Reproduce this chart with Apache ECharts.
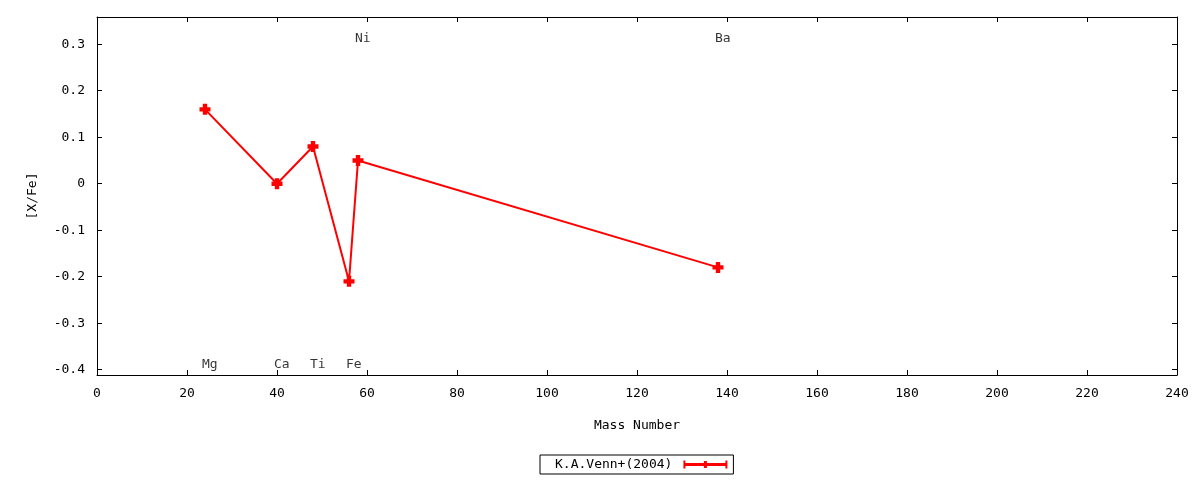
<!DOCTYPE html>
<html>
<head>
<meta charset="utf-8">
<script src="https://cdn.jsdelivr.net/npm/echarts@6/dist/echarts.min.js"></script>
<style>
  html, body { margin: 0; padding: 0; background: #fff; }
  #chart { width: 1200px; height: 480px; }
</style>
</head>
<body>
<div id="chart"></div>
<script>
// data
var elements = ['Mg', 'Ca', 'Ti', 'Fe', 'Ni', 'Ba'];
var massNumber = [24, 40, 48, 56, 58, 138];
var xFe = [0.16, 0.00, 0.08, -0.21, 0.05, -0.18];
var labelY = [-0.39, -0.39, -0.39, -0.39, 0.312, 0.312];
var yTicks = [-0.4, -0.3, -0.2, -0.1, 0, 0.1, 0.2, 0.3];
var seriesName = 'K.A.Venn+(2004)';

var font = 'DejaVu Sans Mono';
var plusSymbol = 'path://M3,0h4v3h3v4h-3v3h-4v-3h-3v-4h3z';

var chart = echarts.init(document.getElementById('chart'));

var points = massNumber.map(function (m, i) { return [m, xFe[i]]; });
var tags = massNumber.map(function (m, i) { return { value: [m, labelY[i]], name: elements[i] }; });

var lineStyleBlack = { color: '#000', width: 1 };

chart.setOption({
    animation: false,
    backgroundColor: '#fff',
    textStyle: { fontFamily: font },
    grid: { left: 97, right: 23, top: 17, bottom: 105 },
    xAxis: [
        {
            type: 'value', min: 0, max: 240, interval: 20,
            name: 'Mass Number', nameLocation: 'middle', nameGap: 44,
            nameTextStyle: { color: '#000', fontSize: 13, fontFamily: font },
            axisLine: { onZero: false, lineStyle: lineStyleBlack },
            axisTick: { inside: true, length: 5, lineStyle: lineStyleBlack },
            axisLabel: { color: '#000', fontSize: 13, fontFamily: font, margin: 12 },
            splitLine: { show: false }
        },
        {
            type: 'value', min: 0, max: 240, interval: 20, position: 'top',
            axisLine: { onZero: false, lineStyle: lineStyleBlack },
            axisTick: { inside: true, length: 5, lineStyle: lineStyleBlack },
            axisLabel: { show: false },
            splitLine: { show: false }
        }
    ],
    yAxis: [
        {
            type: 'value', min: -0.4114, max: 0.3586,
            name: '[X/Fe]', nameLocation: 'middle', nameGap: 58, nameRotate: 90,
            nameTextStyle: { color: '#000', fontSize: 13, fontFamily: font },
            axisLine: { onZero: false, lineStyle: lineStyleBlack },
            axisTick: { inside: true, length: 5, customValues: yTicks, lineStyle: lineStyleBlack },
            axisLabel: {
                color: '#000', fontSize: 13, fontFamily: font, margin: 12,
                customValues: yTicks,
                formatter: function (v) { return String(Math.round(v * 10) / 10); }
            },
            splitLine: { show: false }
        },
        {
            type: 'value', min: -0.4114, max: 0.3586, position: 'right',
            axisLine: { onZero: false, lineStyle: lineStyleBlack },
            axisTick: { inside: true, length: 5, customValues: yTicks, lineStyle: lineStyleBlack },
            axisLabel: { show: false },
            splitLine: { show: false }
        }
    ],
    legend: {
        left: 540, top: 455,
        align: 'right',
        orient: 'horizontal',
        padding: [3, 6, 3, 15],
        borderColor: '#000', borderWidth: 1, borderRadius: 0,
        itemWidth: 44, itemHeight: 8,
        textStyle: { color: '#000', fontSize: 13, fontFamily: font, padding: [0, 6, 0, 0] },
        data: [{
            name: seriesName,
            icon: 'path://M0,0h2v8h-2z M2,2.5h40v3h-40z M42,0h2v8h-2z M20.5,0.5h3v7h-3z',
            itemStyle: { color: '#ff0000' }
        }]
    },
    series: [
        {
            name: seriesName,
            type: 'line',
            data: points,
            symbol: plusSymbol,
            symbolSize: 11,
            itemStyle: { color: '#ff0000' },
            lineStyle: { color: '#ff0000', width: 2 },
            z: 3
        },
        {
            name: 'labels',
            type: 'scatter',
            data: tags,
            symbolSize: 0,
            silent: true,
            label: {
                show: true, position: 'right', distance: 0, offset: [-3, 0],
                formatter: '{b}', color: '#000', fontSize: 13, fontFamily: font
            }
        }
    ]
});
</script>
</body>
</html>
